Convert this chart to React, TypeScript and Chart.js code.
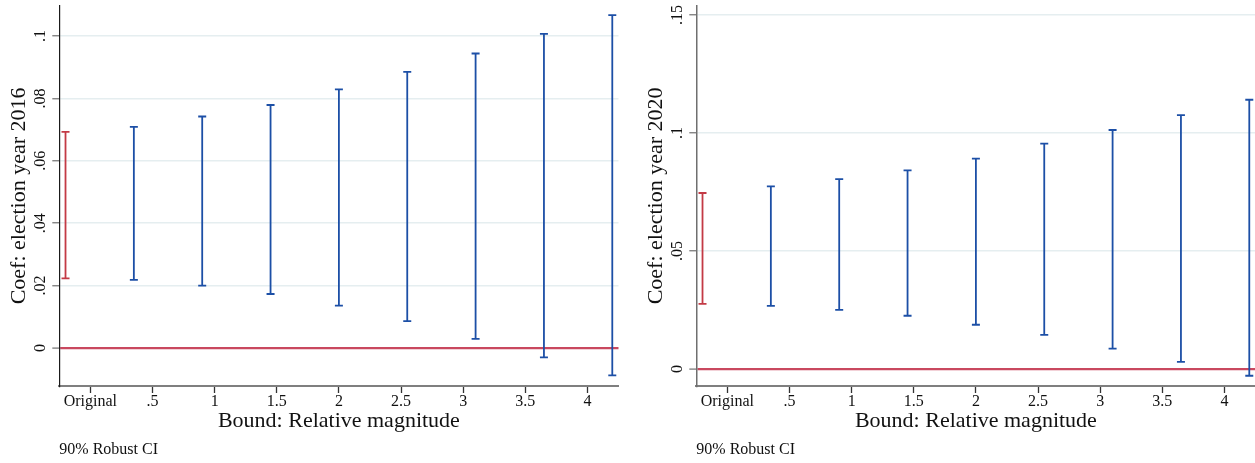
import React, { useEffect, useRef } from 'react';
import { Chart, registerables } from 'chart.js';

Chart.register(...registerables);

// ---- data ----
const boundLabels = ['Original', '.5', '1', '1.5', '2', '2.5', '3', '3.5', '4'];
const boundTickValues = [0, 0.5, 1, 1.5, 2, 2.5, 3, 3.5, 4];
// x-position of each interval on the bound axis (first = Original)
const intervalPositions = [-0.2, 0.35, 0.9, 1.45, 2.0, 2.55, 3.1, 3.65, 4.2];

const lower2016 = [0.0223, 0.0218, 0.0200, 0.0173, 0.0136, 0.0086, 0.0029, -0.0030, -0.0088];
const upper2016 = [0.0693, 0.0709, 0.0742, 0.0779, 0.0829, 0.0885, 0.0944, 0.1007, 0.1067];
const lower2020 = [0.0276, 0.0268, 0.0251, 0.0226, 0.0188, 0.0145, 0.0087, 0.0031, -0.0028];
const upper2020 = [0.0746, 0.0774, 0.0805, 0.0842, 0.0892, 0.0955, 0.1013, 0.1076, 0.1141];

const yTicks2016 = [0, 0.02, 0.04, 0.06, 0.08, 0.1];
const yTickLabels2016 = ['0', '.02', '.04', '.06', '.08', '.1'];
const yTicks2020 = [0, 0.05, 0.1, 0.15];
const yTickLabels2020 = ['0', '.05', '.1', '.15'];

const yRange2016 = [-0.0122, 0.1097];
const yRange2020 = [-0.00715, 0.1539];
const xRange = [-0.25, 4.25];

// ---- styles ----
const SERIF = '"Liberation Serif", "Times New Roman", Times, serif';
const RED = '#c33a45';
const BLUE = '#1c4fa6';
const ZERO = '#c9485f';
const GRID = '#e5eef0';
const TEXT = '#111111';

Chart.defaults.font.family = SERIF;

type Props = {
  lower: number[];
  upper: number[];
  yTicks: number[];
  yTickLabels: string[];
  yRange: number[];
  yTitle: string;
  yBorderColor: string;
  yBorderWidth: number;
  left: number;
};

function CIChart(p: Props) {
  const ref = useRef<HTMLCanvasElement | null>(null);
  useEffect(() => {
    if (!ref.current) return;
    const datasets = intervalPositions.map((x, i) => {
      const c = i === 0 ? RED : BLUE;
      return {
        type: 'line' as const,
        data: [
          { x, y: p.lower[i] },
          { x, y: p.upper[i] },
        ],
        borderColor: c,
        borderWidth: 1.8,
        pointStyle: 'line' as const,
        pointRadius: 4,
        pointHoverRadius: 4,
        pointBorderWidth: 1.8,
        pointBorderColor: c,
        pointBackgroundColor: c,
        fill: false,
        tension: 0,
      };
    });
    const chart = new Chart(ref.current, {
      type: 'line',
      data: { datasets: datasets as any },
      options: {
        animation: false,
        responsive: false,
        events: [],
        layout: { padding: { left: 0, right: 21.5, top: 3.3, bottom: 0 } },
        plugins: {
          legend: { display: false },
          tooltip: { enabled: false },
          subtitle: {
            display: true,
            text: '90% Robust CI',
            position: 'bottom',
            align: 'start',
            fullSize: false,
            color: TEXT,
            font: { family: SERIF, size: 16, lineHeight: 1.2, weight: 'normal' },
            padding: { top: 0, bottom: 3.4 },
          },
        },
        scales: {
          x: {
            type: 'linear',
            min: xRange[0],
            max: xRange[1],
            afterBuildTicks: (s: any) => {
              s.ticks = boundTickValues.map((v) => ({ value: v }));
            },
            afterFit: (s: any) => {
              s.height = 54.4;
              s.paddingLeft = 0;
              s.paddingRight = 0;
            },
            ticks: {
              autoSkip: false,
              minRotation: 0,
              maxRotation: 0,
              padding: 0,
              color: TEXT,
              font: { family: SERIF, size: 16, lineHeight: 1.1 },
              callback: (v: any) => boundLabels[boundTickValues.indexOf(Number(v))] ?? '',
            },
            grid: {
              display: true,
              drawOnChartArea: false,
              drawTicks: true,
              tickLength: 7,
              tickColor: '#333333',
              tickWidth: 1.3,
            },
            border: { display: true, color: '#7f7f7f', width: 2 },
            title: {
              display: true,
              text: 'Bound: Relative magnitude',
              color: TEXT,
              font: { family: SERIF, size: 22, lineHeight: 1.2 },
              padding: { top: 0, bottom: 5.5 },
            },
          },
          y: {
            type: 'linear',
            min: p.yRange[0],
            max: p.yRange[1],
            afterBuildTicks: (s: any) => {
              s.ticks = p.yTicks.map((v) => ({ value: v }));
            },
            afterFit: (s: any) => {
              s.width = 59.3;
              s.paddingTop = 0;
              s.paddingBottom = 0;
            },
            ticks: {
              autoSkip: false,
              minRotation: 90,
              maxRotation: 90,
              crossAlign: 'center',
              padding: 1.5,
              color: TEXT,
              font: { family: SERIF, size: 16 },
              callback: (v: any) => p.yTickLabels[p.yTicks.indexOf(Number(v))] ?? '',
            },
            grid: {
              display: true,
              drawOnChartArea: true,
              drawTicks: true,
              tickLength: 7,
              tickColor: '#7a7a7a',
              tickWidth: 1.3,
              color: (ctx: any) => (ctx.tick && ctx.tick.value === 0 ? ZERO : GRID),
              lineWidth: (ctx: any) => (ctx.tick && ctx.tick.value === 0 ? 2.2 : 1.5),
            },
            border: { display: true, color: p.yBorderColor, width: p.yBorderWidth },
            title: {
              display: true,
              text: p.yTitle,
              color: TEXT,
              font: { family: SERIF, size: 22, lineHeight: 1.2 },
              padding: { top: 6.1, bottom: 0 },
            },
          },
        },
      } as any,
    });
    return () => chart.destroy();
  }, []);
  return (
    <canvas
      ref={ref}
      width={640}
      height={463}
      style={{ position: 'absolute', left: p.left, top: 0, width: 640, height: 463, display: 'block' }}
    />
  );
}

export default function App() {
  return (
    <div
      style={{
        position: 'fixed',
        left: 0,
        top: 0,
        width: 1255,
        height: 463,
        overflow: 'hidden',
        background: '#ffffff',
      }}
    >
      <CIChart
        lower={lower2016}
        upper={upper2016}
        yTicks={yTicks2016}
        yTickLabels={yTickLabels2016}
        yRange={yRange2016}
        yTitle="Coef: election year 2016"
        yBorderColor="#1a1a1a"
        yBorderWidth={1.2}
        left={0}
      />
      <CIChart
        lower={lower2020}
        upper={upper2020}
        yTicks={yTicks2020}
        yTickLabels={yTickLabels2020}
        yRange={yRange2020}
        yTitle="Coef: election year 2020"
        yBorderColor="#6f6f6f"
        yBorderWidth={1.5}
        left={637}
      />
    </div>
  );
}
